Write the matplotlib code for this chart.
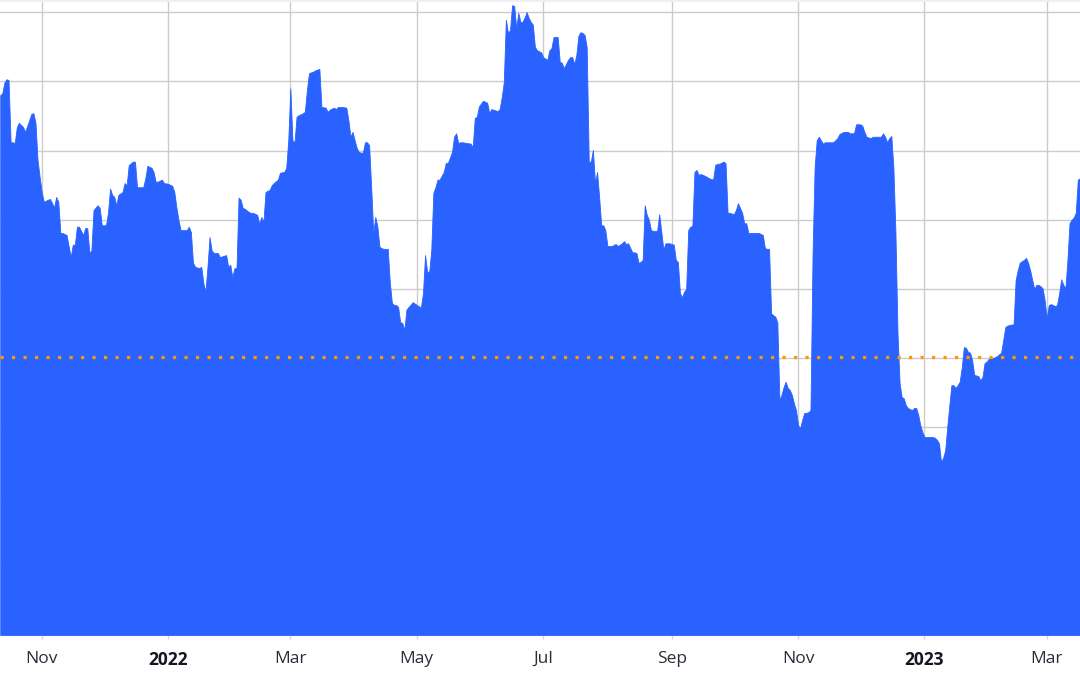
import numpy as np
import matplotlib
matplotlib.use("Agg")
import matplotlib.pyplot as plt
import matplotlib.dates as mdates
from matplotlib.patches import Rectangle

# ---- data (days since 2021-10-12, value) ----
base_date = np.datetime64("2021-10-12")
days = [
    0, 1, 2, 3, 4, 5, 6, 7, 8, 9, 11, 12, 14, 15, 16, 17, 18, 19, 20, 21, 23, 24, 26, 27, 28, 29, 30,
    32, 34, 35, 36, 37, 38, 40, 41, 42, 43, 44, 45, 47, 48, 49, 51, 52, 53, 54, 55, 56, 57, 59, 60,
    61, 62, 64, 65, 66, 69, 70, 71, 73, 74, 75, 76, 78, 79, 81, 83, 84, 85, 86, 87, 90, 91, 92, 93,
    94, 96, 97, 98, 99, 100, 101, 102, 103, 105, 106, 108, 109, 110, 111, 112, 113, 114, 115, 116,
    117, 118, 120, 121, 122, 124, 125, 126, 127, 128, 129, 130, 131, 132, 134, 135, 137, 138, 139,
    140, 141, 142, 143, 144, 146, 147, 148, 149, 151, 152, 154, 155, 157, 158, 159, 161, 162, 163,
    165, 167, 168, 169, 170, 171, 172, 173, 174, 175, 176, 177, 178, 179, 180, 181, 182, 183, 184,
    185, 187, 188, 189, 190, 191, 192, 193, 194, 195, 196, 197, 198, 199, 201, 203, 204, 205, 206,
    207, 208, 209, 210, 211, 212, 214, 215, 216, 218, 219, 220, 221, 222, 223, 225, 227, 228, 229,
    230, 231, 233, 235, 236, 237, 238, 240, 241, 242, 243, 244, 245, 246, 247, 248, 249, 250, 251,
    252, 253, 254, 255, 256, 257, 258, 259, 261, 262, 264, 265, 266, 267, 269, 270, 271, 272, 274,
    275, 276, 277, 278, 279, 280, 281, 282, 283, 284, 285, 286, 287, 288, 289, 290, 291, 292, 293,
    295, 297, 298, 300, 301, 302, 303, 305, 306, 307, 308, 309, 310, 311, 312, 313, 314, 315, 317,
    318, 320, 321, 323, 325, 326, 327, 328, 329, 330, 331, 332, 333, 334, 335, 336, 337, 338, 339,
    341, 342, 344, 345, 346, 347, 349, 350, 351, 352, 354, 355, 356, 358, 359, 360, 361, 362, 363,
    365, 366, 368, 369, 370, 371, 372, 373, 374, 375, 376, 377, 378, 379, 380, 381, 382, 383, 384,
    385, 386, 387, 388, 389, 390, 391, 392, 393, 394, 395, 396, 397, 398, 400, 402, 404, 405, 407,
    409, 410, 412, 413, 415, 416, 417, 418, 420, 421, 423, 425, 426, 427, 428, 429, 430, 431, 432,
    433, 434, 435, 436, 437, 438, 440, 441, 442, 443, 444, 445, 446, 448, 450, 451, 452, 453, 454,
    455, 456, 457, 458, 459, 460, 461, 462, 463, 464, 465, 466, 467, 468, 469, 470, 472, 473, 474,
    475, 476, 477, 478, 479, 481, 483, 484, 485, 486, 487, 489, 490, 491, 492, 494, 495, 496, 497,
    498, 499, 500, 501, 502, 503, 504, 505, 506, 507, 508, 509, 510, 511, 512, 513, 514, 515, 516,
    517, 518, 519, 520, 521,
]
values = [
    78.0, 78.3, 79.8, 80.3, 80.2, 71.2, 71.2, 71.1, 73.4, 74.0, 73.4, 72.7, 74.4, 75.3, 75.4, 74.0,
    68.6, 66.2, 64.0, 62.6, 62.9, 63.0, 61.8, 63.3, 62.6, 58.1, 58.1, 57.8, 54.6, 56.4, 56.4, 59.0,
    59.0, 57.8, 58.8, 58.8, 55.2, 55.6, 61.4, 62.1, 61.7, 59.2, 59.2, 61.0, 64.5, 63.6, 63.3, 62.1,
    63.6, 64.0, 65.3, 65.0, 67.9, 68.4, 68.4, 64.7, 64.7, 66.0, 67.8, 67.5, 66.9, 65.5, 65.5, 65.8,
    65.3, 65.2, 64.9, 64.0, 61.8, 60.0, 58.5, 58.5, 59.0, 58.2, 53.8, 53.2, 53.0, 53.2, 50.9, 49.6,
    53.2, 57.5, 55.6, 55.2, 55.2, 54.6, 54.8, 54.9, 53.2, 53.5, 51.7, 53.0, 53.0, 63.2, 62.9, 61.7,
    61.6, 61.1, 61.0, 61.0, 60.7, 59.4, 60.4, 59.7, 64.0, 64.2, 64.3, 65.0, 65.3, 65.8, 66.8, 66.9,
    67.5, 71.5, 79.0, 71.5, 71.2, 74.9, 75.1, 75.4, 75.6, 78.8, 81.2, 81.4, 81.6, 81.8, 76.3, 76.2,
    75.6, 75.9, 76.2, 76.0, 76.3, 76.3, 76.2, 74.4, 72.0, 72.7, 71.5, 70.4, 69.8, 69.7, 69.7, 71.2,
    71.2, 70.8, 64.7, 58.1, 60.4, 59.0, 56.1, 55.9, 55.8, 55.8, 50.9, 48.0, 47.7, 47.7, 47.4, 45.2,
    45.1, 44.1, 47.0, 47.4, 47.7, 48.1, 47.7, 47.3, 49.4, 54.9, 52.5, 52.5, 55.6, 63.9, 64.7, 65.8,
    65.8, 66.9, 68.2, 68.2, 69.8, 72.0, 72.5, 71.1, 71.2, 71.2, 71.1, 71.0, 70.5, 74.7, 74.9, 76.4,
    77.2, 76.9, 75.4, 76.0, 75.9, 75.7, 76.0, 77.7, 79.9, 88.9, 87.0, 87.4, 91.0, 90.9, 87.7, 89.9,
    88.6, 88.6, 89.2, 90.0, 89.2, 88.6, 88.2, 85.0, 84.5, 84.2, 83.5, 83.1, 84.5, 84.8, 86.4, 86.4,
    82.8, 82.7, 81.9, 83.1, 83.5, 83.5, 82.5, 83.8, 86.6, 87.1, 87.0, 86.7, 85.0, 68.4, 68.4, 70.1,
    65.3, 66.9, 63.3, 59.2, 59.2, 58.5, 56.2, 56.2, 56.5, 56.2, 56.6, 56.9, 56.5, 56.6, 55.3, 55.3,
    55.2, 53.8, 53.9, 54.2, 62.1, 60.7, 60.0, 58.5, 58.4, 58.4, 60.8, 55.7, 56.6, 56.6, 56.4, 54.2,
    53.9, 49.4, 48.8, 49.6, 50.0, 58.5, 59.0, 59.1, 66.9, 67.2, 66.5, 66.6, 66.5, 66.2, 66.0, 65.8,
    67.9, 68.1, 68.1, 68.4, 68.2, 61.0, 61.0, 60.8, 61.4, 62.4, 61.0, 59.5, 59.5, 58.1, 58.1, 58.1,
    58.1, 58.1, 57.8, 55.9, 55.8, 55.8, 46.5, 46.2, 46.0, 45.2, 34.0, 34.7, 35.8, 36.6, 35.7, 35.4,
    34.7, 33.5, 32.5, 30.3, 29.9, 31.1, 32.1, 32.1, 32.2, 32.5, 55.0, 67.6, 71.5, 72.0, 71.5, 71.0,
    71.2, 71.2, 71.2, 71.8, 72.4, 72.7, 72.7, 72.5, 72.5, 73.8, 73.8, 73.6, 72.7, 72.0, 71.8, 72.0,
    72.0, 72.0, 72.5, 72.0, 71.2, 71.8, 72.1, 67.6, 58.1, 43.6, 36.4, 34.4, 34.2, 33.2, 32.8, 32.5,
    32.8, 32.8, 31.8, 30.3, 29.3, 28.6, 28.6, 28.6, 28.5, 28.2, 27.7, 25.0, 25.6, 26.7, 30.1, 33.2,
    36.1, 36.1, 35.7, 36.1, 36.6, 38.7, 41.6, 41.5, 40.9, 40.8, 39.7, 37.6, 37.4, 36.8, 37.3, 39.3,
    39.5, 39.9, 40.0, 40.0, 40.3, 40.8, 42.6, 44.5, 44.7, 44.8, 44.9, 51.3, 52.7, 53.8, 54.2, 54.5,
    53.8, 52.7, 51.3, 50.0, 50.6, 50.6, 50.4, 50.1, 48.4, 45.8, 47.7, 47.8, 47.7, 47.5, 47.7, 49.4,
    51.4, 50.6, 50.1, 54.2, 59.5, 60.0, 60.3, 61.0, 65.8, 66.0,
]
reference_level = 40.2

tick_dates = ["2021-11-01", "2022-01-01", "2022-03-01", "2022-05-01", "2022-07-01",
              "2022-09-01", "2022-11-01", "2023-01-01", "2023-03-01"]
tick_labels = ["Nov", "2022", "Mar", "May", "Jul", "Sep", "Nov", "2023", "Mar"]
bold_labels = {"2022", "2023"}

# ---- figure ----
dates = base_date + np.array(days).astype("timedelta64[D]")

fig = plt.figure(figsize=(10.8, 6.75), dpi=100)
fig.patch.set_facecolor("white")
ax = fig.add_axes([0.0, 40 / 675, 1.0, 633 / 675])
ax.set_facecolor("white")

ax.fill_between(dates, 0, values, color="#2962ff", linewidth=0.6,
                edgecolor="#2962ff", zorder=2)
ax.axhline(reference_level, color="#ff9800", linewidth=2.3,
           linestyle=(0, (1, 2.6)), dash_capstyle="butt", zorder=3)

nov1 = np.datetime64("2021-11-01T00:00")
left = nov1 - np.timedelta64(int(20.12 * 1440), "m")
right = nov1 + np.timedelta64(int(501.06 * 1440), "m")
ax.set_xlim(mdates.date2num(left), mdates.date2num(right))
ax.set_ylim(0, 91.47)

ax.set_yticks(np.arange(0, 91, 10))
ax.tick_params(axis="y", left=False, labelleft=False)
ax.set_xticks([mdates.date2num(np.datetime64(d)) for d in tick_dates])
ax.set_xticklabels(tick_labels)
ax.tick_params(axis="x", length=3, width=1, color="#d6d6d6", pad=8.5)
for lbl in ax.get_xticklabels():
    lbl.set_fontfamily(["Open Sans", "DejaVu Sans"])
    lbl.set_fontsize(12.5)
    if lbl.get_text() in bold_labels:
        lbl.set_fontweight("bold")
        lbl.set_color("#131722")
    else:
        lbl.set_color("#2a2e39")

ax.grid(True, color="#cccccc", linewidth=1.0, zorder=0)
ax.set_axisbelow(True)
for s in ax.spines.values():
    s.set_visible(False)

fig.patches.append(Rectangle((0, 673 / 675), 1, 2 / 675, transform=fig.transFigure,
                             facecolor="#eef0f5", edgecolor="none", zorder=5))

fig.savefig("out.png", dpi=100)
